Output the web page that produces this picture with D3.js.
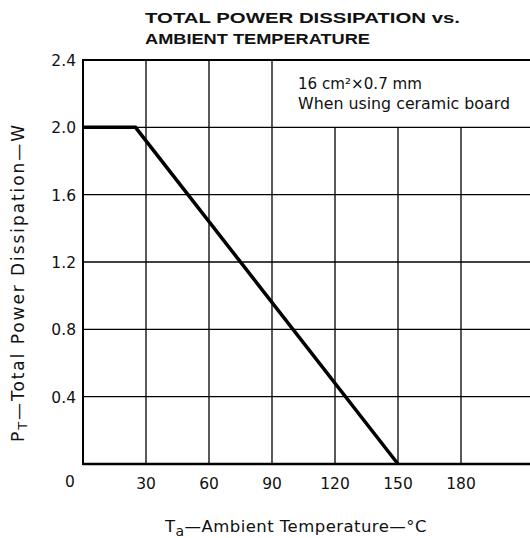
<!DOCTYPE html>
<meta charset="utf-8">
<style>

body {
  margin: 0;
  background: #fff;
}

svg {
  font-family: "DejaVu Sans", sans-serif;
  fill: #111;
}

.grid line {
  stroke: #000;
  stroke-width: 1.3px;
}

.frame {
  stroke: #000;
  stroke-width: 2px;
}

.curve {
  fill: none;
  stroke: #000;
  stroke-width: 3.5px;
  stroke-linejoin: miter;
}

</style>
<body>
<script src="https://d3js.org/d3.v7.min.js"></script>
<script>

var width = 530,
    height = 538;

// chart values
var xTicks = [0, 30, 60, 90, 120, 150, 180];
var yTicks = [0.4, 0.8, 1.2, 1.6, 2.0, 2.4];
var tempC = [0, 25, 150];
var powerW = [2.0, 2.0, 0];
var noteLines = ["16 cm²×0.7 mm", "When using ceramic board"];

var x = d3.scaleLinear().domain([0, 210]).range([83, 524]),
    y = d3.scaleLinear().domain([0, 2.4]).range([464, 60]);

var svg = d3.select("body").append("svg")
    .attr("width", width)
    .attr("height", height);

// spread letters of a text until it is w pixels long
function spread(sel, w) {
  var node = sel.node(),
      n = node.textContent.length,
      len = node.getComputedTextLength();
  sel.style("letter-spacing", Math.max(0, (w - len) / n) + "px");
}

// title
svg.append("text")
    .attr("x", 145).attr("y", 23)
    .attr("textLength", 315).attr("lengthAdjust", "spacingAndGlyphs")
    .style("font-family", "'Liberation Sans', Arial, sans-serif")
    .style("font-size", "15px").style("font-weight", "bold")
    .text("TOTAL POWER DISSIPATION vs.");
svg.append("text")
    .attr("x", 145).attr("y", 44)
    .attr("textLength", 225).attr("lengthAdjust", "spacingAndGlyphs")
    .style("font-family", "'Liberation Sans', Arial, sans-serif")
    .style("font-size", "15px").style("font-weight", "bold")
    .text("AMBIENT TEMPERATURE");

var grid = svg.append("g").attr("class", "grid");

// horizontal grid lines
grid.selectAll(".h")
  .data(yTicks.filter(function(d) { return d < 2.4; }))
  .enter().append("line")
    .attr("x1", x(0)).attr("x2", width)
    .attr("y1", function(d) { return y(d); })
    .attr("y2", function(d) { return y(d); });

// vertical grid lines, the ones under the note stop at 2.0
grid.selectAll(".v")
  .data(xTicks.filter(function(d) { return d > 0; }))
  .enter().append("line")
    .attr("x1", function(d) { return x(d); })
    .attr("x2", function(d) { return x(d); })
    .attr("y1", y(0))
    .attr("y2", function(d) { return d > 90 ? y(2.0) : y(2.4); });

// frame
svg.append("line").attr("class", "frame")
    .attr("x1", x(0)).attr("x2", x(0)).attr("y1", y(0) + 1).attr("y2", y(2.4) - 1);
svg.append("line").attr("class", "frame")
    .attr("x1", x(0)).attr("x2", width).attr("y1", y(2.4)).attr("y2", y(2.4));
svg.append("line").attr("class", "frame")
    .style("stroke-width", "2.5px")
    .attr("x1", x(0)).attr("x2", width).attr("y1", y(0)).attr("y2", y(0));

// curve
var line = d3.line()
    .x(function(d, i) { return x(tempC[i]); })
    .y(function(d) { return y(d); });

svg.append("path")
    .datum(powerW)
    .attr("class", "curve")
    .attr("d", line);

// axis labels
svg.append("g").selectAll("text")
  .data(xTicks)
  .enter().append("text")
    .attr("x", function(d) { return d === 0 ? x(0) - 13 : x(d); })
    .attr("y", function(d) { return d === 0 ? 487 : 489; })
    .attr("text-anchor", "middle")
    .style("font-size", "15.5px")
    .text(function(d) { return d; });

svg.append("g").selectAll("text")
  .data(yTicks)
  .enter().append("text")
    .attr("x", 76)
    .attr("y", function(d) { return y(d) + 6; })
    .attr("text-anchor", "end")
    .style("font-size", "15.5px")
    .text(function(d) { return d.toFixed(1); });

// note
var noteWidths = [124, 212];
svg.append("g").selectAll("text")
  .data(noteLines)
  .enter().append("text")
    .attr("x", 298)
    .attr("y", function(d, i) { return 89 + i * 20; })
    .attr("textLength", function(d, i) { return noteWidths[i]; })
    .attr("lengthAdjust", "spacingAndGlyphs")
    .style("font-size", "15px")
    .text(function(d) { return d; });

// x title
var xt = svg.append("text")
    .attr("x", 165).attr("y", 532)
    .style("font-size", "16.5px");
xt.append("tspan").text("T");
xt.append("tspan").attr("dy", 4).style("font-size", "14px").text("a");
xt.append("tspan").attr("dy", -4).text("—Ambient Temperature—°C");
spread(xt, 262);

// y title
var yt = svg.append("text")
    .attr("transform", "translate(24,442) rotate(-90)")
    .style("font-size", "17px");
yt.append("tspan").text("P");
yt.append("tspan").attr("dy", 3).style("font-size", "13px").text("T");
yt.append("tspan").attr("dy", -3).text("—Total Power Dissipation—W");
spread(yt, 319);

</script>
